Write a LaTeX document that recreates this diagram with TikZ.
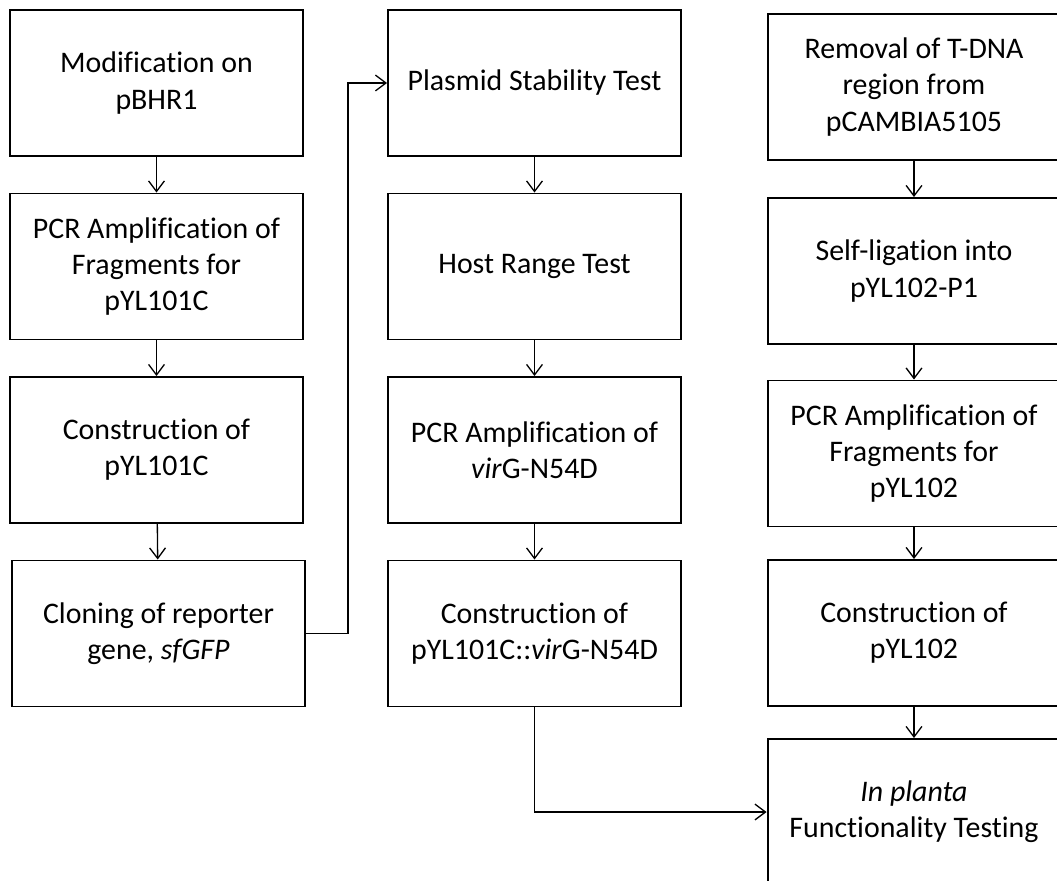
\documentclass[tikz,border=0pt]{standalone}
\usepackage{fontspec}
\setmainfont[Ligatures=NoCommon]{Carlito}
\usetikzlibrary{arrows.meta}

\begin{document}
\begin{tikzpicture}[x=0.02cm, y=-0.02cm,
		stepbox/.style={draw, line width=1.1pt, minimum width=5.86cm, minimum height=2.92cm,
			inner sep=0pt, align=center, font=\fontsize{17}{20.6}\selectfont},
		link/.style={line width=0.75pt, -{Straight Barb[length=6pt, width=9pt]}}]
		%%%%% START %%%%%
		\useasboundingbox (0, 0) rectangle (1057, 881);
		\clip (0, 0) rectangle (1057, 881);
		
		% first column
		\node[stepbox] (c1a) at (156.5, 83) {Modification on\\pBHR1};
		\node[stepbox] (c1b) at (156.5, 266.5) {PCR Amplification of\\Fragments for\\pYL101C};
		\node[stepbox] (c1c) at (156.5, 450) {Construction of\\pYL101C};
		\node[stepbox] (c1d) at (158.5, 633.5) {Cloning of reporter\\gene, \textit{sfGFP}};
		
		% second column
		\node[stepbox] (c2a) at (534.5, 83) {Plasmid Stability Test};
		\node[stepbox] (c2b) at (534.5, 266.5) {Host Range Test};
		\node[stepbox] (c2c) at (534.5, 450) {PCR Amplification of\\\textit{vir}G-N54D};
		\node[stepbox] (c2d) at (534.5, 633.5) {Construction of\\pYL101C::\textit{vir}G-N54D};
		
		% third column
		\node[stepbox] (c3a) at (914, 87) {Removal of T-DNA\\region from\\pCAMBIA5105};
		\node[stepbox] (c3b) at (914, 271) {Self-ligation into\\pYL102-P1};
		\node[stepbox] (c3c) at (914, 453.5) {PCR Amplification of\\Fragments for\\pYL102};
		\node[stepbox] (c3d) at (914, 633) {Construction of\\pYL102};
		\node[stepbox] (c3e) at (914, 812) {\textit{In planta}\\Functionality Testing};
		
		\draw[link] (c1a) -- (c1b);
		\draw[link] (c1b) -- (c1c);
		\draw[link] (c1c) -- (c1d);
		\draw[link] (c1d.east) -- ++(42, 0) |- (c2a.west);
		
		\draw[link] (c2a) -- (c2b);
		\draw[link] (c2b) -- (c2c);
		\draw[link] (c2c) -- (c2d);
		\draw[link] (c2d.south) |- (c3e.west);
		
		\draw[link] (c3a) -- (c3b);
		\draw[link] (c3b) -- (c3c);
		\draw[link] (c3c) -- (c3d);
		\draw[link] (c3d) -- (c3e);
		%%%%% END %%%%%
	\end{tikzpicture}
\end{document}
